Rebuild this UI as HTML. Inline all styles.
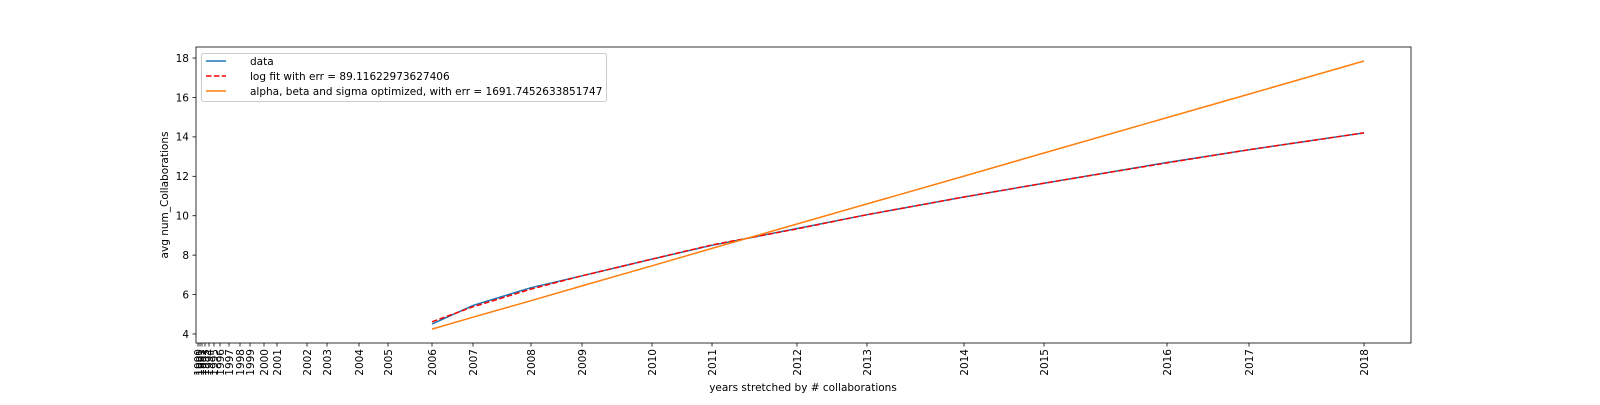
<!DOCTYPE html>
<html><head><meta charset="utf-8"><style>
body{margin:0;background:#fff;}
svg text{font-family:"DejaVu Sans","Liberation Sans",sans-serif;font-size:10.5px;fill:#000;}
</style></head><body>
<svg id="chart" width="1600" height="400">
<g id="plot"></g>
</svg>
<script>
const years=[1990,1991,1992,1993,1994,1995,1996,1997,1998,1999,2000,2001,2002,2003,2004,2005,2006,2007,2008,2009,2010,2011,2012,2013,2014,2015,2016,2017,2018];
const cumCollab=[-8,-6,-4,-1,3,8,14,23,34,44,58,71,101,121,153,182,226,267,325,376,446,506,591,661,758,838,961,1043,1158];
const dataYears=[2006,2007,2008,2009,2010,2011,2012,2013,2014,2015,2016,2017,2018];
const dataVals=[4.5,5.45,6.35,6.95,7.8,8.5,9.35,10.05,10.95,11.65,12.7,13.35,14.2];
const logFit=[4.62,5.38,6.28,6.95,7.8,8.52,9.33,10.05,10.95,11.65,12.68,13.35,14.2];
const optFit=[4.25,4.85,5.69,6.44,7.46,8.34,9.58,10.60,12.01,13.18,14.98,16.17,17.85];
const yTicks=[4,6,8,10,12,14,16,18];
const L=196,R=1411,T=47,B=343;
const X0=-10,X1=1205,Y0=3.543,Y1=18.56;
const sx=v=>L+(v-X0)/(X1-X0)*(R-L);
const sy=v=>B-(v-Y0)/(Y1-Y0)*(B-T);
const xOf=y=>cumCollab[years.indexOf(y)];
const g=document.getElementById('plot');
const NS='http://www.w3.org/2000/svg';
function mk(t,a,p){const e=document.createElementNS(NS,t);for(const k in a)e.setAttribute(k,a[k]);(p||g).appendChild(e);return e;}
function line(vals,color,dash,name){
  const pts=dataYears.map((y,i)=>sx(xOf(y)).toFixed(1)+','+sy(vals[i]).toFixed(1)).join(' ');
  const e=mk('polyline',{points:pts,fill:'none',stroke:color,'stroke-width':1.5});
  if(dash)e.setAttribute('stroke-dasharray',dash);
  
  
}
line(dataVals,'#1f77b4',null,'data-line');
line(logFit,'#ff0000','5.5,2.4','log-fit-line');
line(optFit,'#ff7f0e',null,'optimized-fit-line');
const fr=mk('rect',{x:L,y:T,width:R-L,height:B-T,fill:'none',stroke:'#000','stroke-width':0.8});


yTicks.forEach(v=>{
  const y=sy(v);
  const t=mk('line',{x1:L-3.5,x2:L,y1:y,y2:y,stroke:'#000','stroke-width':0.8});
  
  
  const tx=mk('text',{x:L-7,y:y+3.8,'text-anchor':'end'});
  tx.textContent=v;
  
  
});
years.forEach((yr,i)=>{
  const x=sx(cumCollab[i]);
  const t=mk('line',{x1:x,x2:x,y1:B,y2:B+3.5,stroke:'#000','stroke-width':0.8});
  
  
  const tx=mk('text',{x:0,y:0,'text-anchor':'end',transform:`translate(${x+3.8},${B+6}) rotate(-90)`});
  tx.textContent=yr;
  
  
});
</script>
<svg width="1600" height="400" style="position:absolute;left:0;top:0">
<text x="803" y="391" text-anchor="middle" style="font-family:'DejaVu Sans','Liberation Sans',sans-serif;font-size:10.5px">years stretched by # collaborations</text>
<text transform="translate(168,195) rotate(-90)" text-anchor="middle" style="font-family:'DejaVu Sans','Liberation Sans',sans-serif;font-size:10.5px">avg num_Collaborations</text>
<g>
<rect x="201.5" y="53.5" width="405" height="48" rx="2" fill="#fff" fill-opacity="0.8" stroke="#ccc"/>
<line x1="206" x2="226" y1="61" y2="61" stroke="#1f77b4" stroke-width="1.5"/>
<text x="250" y="64.8" style="font-family:'DejaVu Sans','Liberation Sans',sans-serif;font-size:10.5px">data</text>
<line x1="206" x2="226" y1="76" y2="76" stroke="#ff0000" stroke-width="1.5" stroke-dasharray="5.5,2.4"/>
<text x="250" y="79.8" style="font-family:'DejaVu Sans','Liberation Sans',sans-serif;font-size:10.5px">log fit with err = 89.11622973627406</text>
<line x1="206" x2="226" y1="91" y2="91" stroke="#ff7f0e" stroke-width="1.5"/>
<text x="250" y="94.8" style="font-family:'DejaVu Sans','Liberation Sans',sans-serif;font-size:10.5px">alpha, beta and sigma optimized, with err = 1691.7452633851747</text>
</g>
</svg>
</body></html>
